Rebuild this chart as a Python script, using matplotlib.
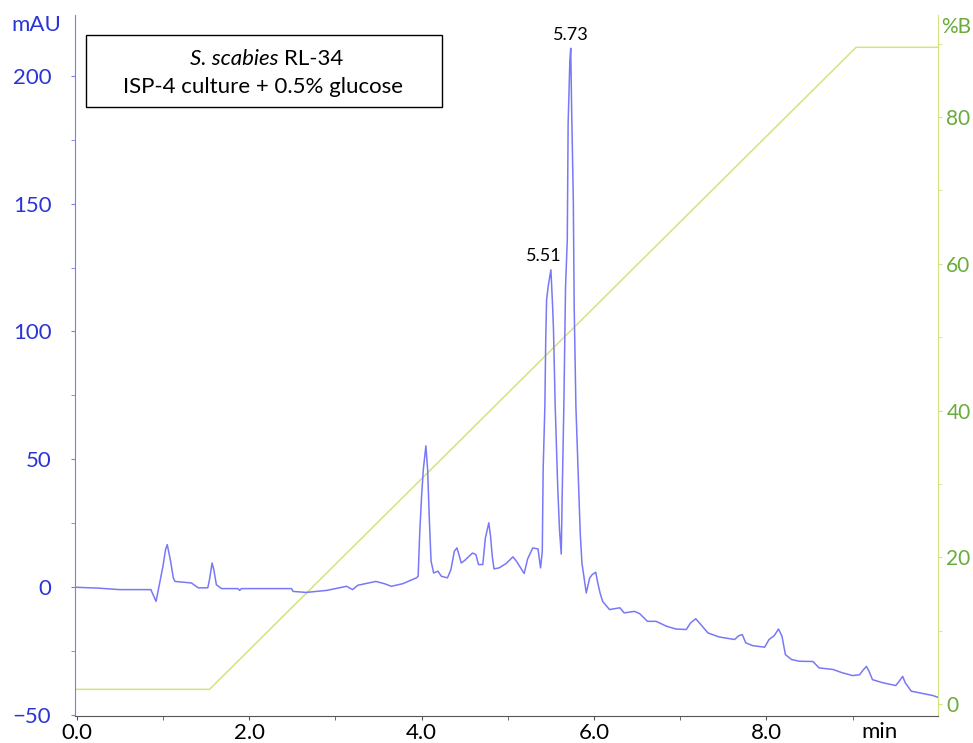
import numpy as np
import matplotlib
matplotlib.use("Agg")
import matplotlib.pyplot as plt
from matplotlib.patches import Rectangle
from matplotlib.ticker import MultipleLocator

# chromatogram trace (time in min, absorbance in mAU)
time_min = [0.00, 0.24, 0.50, 0.86, 0.92, 0.97, 1.00, 1.03, 1.05, 1.09, 1.12, 1.14,
            1.33, 1.41, 1.52, 1.54, 1.57, 1.59, 1.62, 1.68, 1.87, 1.89, 1.91, 2.49,
            2.51, 2.66, 2.90, 3.13, 3.20, 3.26, 3.47, 3.57, 3.65, 3.78, 3.94, 3.96,
            3.98, 4.00, 4.02, 4.05, 4.07, 4.09, 4.11, 4.14, 4.19, 4.23, 4.30, 4.34,
            4.38, 4.41, 4.43, 4.46, 4.50, 4.59, 4.63, 4.66, 4.71, 4.74, 4.78, 4.80,
            4.82, 4.84, 4.90, 4.98, 5.06, 5.10, 5.19, 5.23, 5.29, 5.35, 5.38, 5.40,
            5.41, 5.43, 5.44, 5.45, 5.47, 5.50, 5.52, 5.53, 5.55, 5.58, 5.60, 5.62,
            5.63, 5.65, 5.67, 5.69, 5.70, 5.72, 5.73, 5.74, 5.76, 5.77, 5.79, 5.82,
            5.84, 5.86, 5.91, 5.95, 5.98, 6.02, 6.04, 6.07, 6.10, 6.18, 6.30, 6.35,
            6.47, 6.53, 6.62, 6.72, 6.84, 6.95, 7.07, 7.12, 7.18, 7.24, 7.32, 7.45,
            7.63, 7.68, 7.72, 7.76, 7.84, 7.98, 8.03, 8.09, 8.14, 8.18, 8.22, 8.29,
            8.38, 8.54, 8.61, 8.77, 8.88, 9.00, 9.08, 9.12, 9.16, 9.19, 9.23, 9.35,
            9.50, 9.54, 9.58, 9.61, 9.68, 9.81, 9.93, 9.99]
mau = [0.0, -0.3, -0.9, -0.9, -5.5, 3.0, 8.2, 14.7, 16.7, 10.0, 3.7, 2.3,
       1.7, -0.2, -0.2, 3.0, 9.5, 6.9, 1.0, -0.5, -0.5, -1.2, -0.5, -0.5,
       -1.6, -2.0, -1.2, 0.4, -0.9, 0.8, 2.3, 1.4, 0.4, 1.4, 3.7, 4.3,
       22.5, 35.5, 46.0, 55.3, 46.0, 26.4, 10.2, 5.6, 6.3, 4.3, 3.7, 6.9,
       14.1, 15.4, 13.2, 9.5, 10.5, 13.4, 12.8, 8.9, 8.9, 19.3, 25.2, 19.9,
       12.1, 7.2, 7.6, 9.3, 11.9, 10.2, 5.4, 11.1, 15.4, 15.0, 7.6, 14.0,
       45.9, 70.7, 96.8, 112.4, 118.0, 124.1, 109.8, 100.7, 70.7, 38.2, 22.5, 13.0,
       34.3, 70.7, 117.6, 135.8, 181.4, 206.0, 210.7, 187.9, 151.4, 109.8, 70.7, 40.8,
       21.3, 9.5, -2.2, 3.7, 5.0, 5.9, 2.3, -2.2, -5.5, -8.7, -8.0, -10.0,
       -9.4, -10.3, -13.3, -13.3, -15.2, -16.3, -16.5, -13.9, -12.3, -14.6, -17.8, -19.4,
       -20.4, -18.9, -18.5, -21.7, -22.8, -23.4, -20.4, -18.9, -16.3, -19.1, -26.3, -28.2,
       -28.9, -29.0, -31.5, -32.1, -33.4, -34.5, -34.2, -32.4, -30.9, -32.8, -36.1, -37.3,
       -38.4, -36.7, -34.8, -37.3, -40.6, -41.5, -42.3, -43.0]

# solvent gradient (%B)
grad_time = [0.0, 1.54, 9.04, 10.0]
grad_b = [2, 2, 89.5, 89.5]

peak_times = [5.50, 5.73]
peak_heights = [124.1, 210.7]
peak_labels = ["5.51", "5.73"]

xticks = [0, 2, 4, 6, 8]
xtick_labels = ["0.0", "2.0", "4.0", "6.0", "8.0"]
yticks_left = [-50, 0, 50, 100, 150, 200]
yticks_right = [0, 20, 40, 60, 80]

plt.rcParams['font.family'] = ['Lato', 'DejaVu Sans']

blue_line = '#7878f8'
blue_txt = '#2a35d8'
green_line = '#d3e47c'
green_txt = '#6aab3c'

fig = plt.figure(figsize=(9.73, 7.43), dpi=100)
ax = fig.add_axes([75/973, 1-716/743, (938-75)/973, (716-15)/743])
ax2 = ax.twinx()
ax.set_zorder(ax2.get_zorder() + 1)
ax.patch.set_visible(False)

ax.plot(time_min, mau, color=blue_line, lw=1.1)
ax2.plot(grad_time, grad_b, color=green_line, lw=1.1)

ax.set_xlim(-0.02, 9.99)
ax.set_ylim(-50.3, 223.7)
ax2.set_ylim(-1.63, 93.9)

for a in (ax, ax2):
    a.spines['top'].set_visible(False)
ax.spines['right'].set_visible(False)
ax2.spines['left'].set_visible(False)
ax2.spines['bottom'].set_visible(False)
ax.spines['left'].set_color('#7a7aff')
ax.spines['bottom'].set_color('#555555')
ax2.spines['right'].set_color(green_line)

ax.set_xticks(xticks, xtick_labels)
ax.xaxis.set_minor_locator(MultipleLocator(1))
ax.set_yticks(yticks_left)
ax.yaxis.set_minor_locator(MultipleLocator(25))
ax2.set_yticks(yticks_right)
ax2.yaxis.set_minor_locator(MultipleLocator(10))

ax.tick_params(axis='x', which='both', length=3, color='#555555', labelsize=16, pad=2, labelcolor='black')
ax.tick_params(axis='y', which='both', length=3, color='#7a7aff', labelsize=16, pad=14, labelcolor=blue_txt)
ax2.tick_params(axis='y', which='both', length=3, color=green_line, labelsize=15, pad=3, labelcolor=green_txt)

ax.annotate("min", xy=(9.31, 0), xycoords=('data', 'axes fraction'), xytext=(0, -4),
            textcoords='offset points', ha='center', va='top', fontsize=16)
fig.text(36/973, 1-25/743, "mAU", ha='center', va='center', fontsize=16, color=blue_txt)
fig.text(956/973, 1-27/743, "%B", ha='center', va='center', fontsize=15, color=green_txt)

for t, h, lab in zip(peak_times, peak_heights, peak_labels):
    dx = -5 if lab == "5.51" else 0
    ax.annotate(lab, xy=(t, h), xytext=(dx, 4), textcoords='offset points',
                ha='center', va='bottom', fontsize=13)

fig.add_artist(Rectangle((86/973, 1-107/743), (442-86)/973, 72/743, transform=fig.transFigure,
                         fill=False, edgecolor='black', lw=1))
fig.text(284/973, 1-59/743, "S. scabies ", ha='right', va='center', fontsize=16, style='italic')
fig.text(284/973, 1-59/743, "RL-34", ha='left', va='center', fontsize=16)
fig.text(263/973, 1-87/743, "ISP-4 culture + 0.5% glucose", ha='center', va='center', fontsize=16)

fig.savefig("out.png", dpi=100)
